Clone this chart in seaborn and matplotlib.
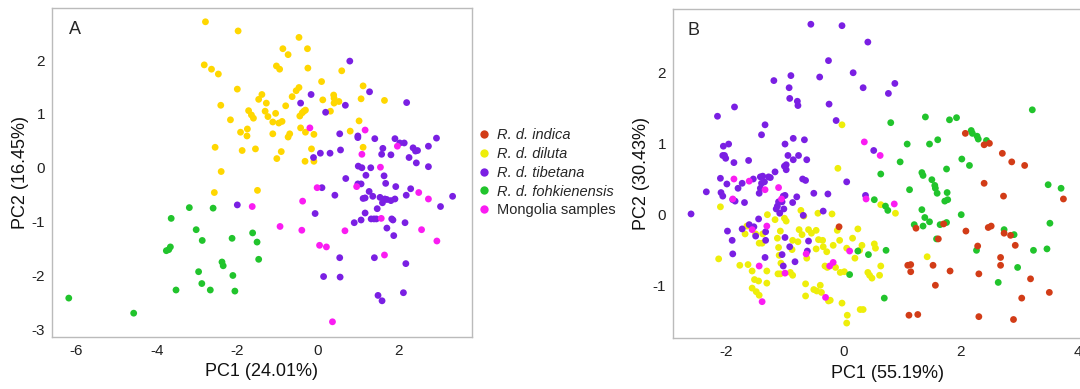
import pandas as pd
import numpy as np
import matplotlib
matplotlib.use('Agg')
import matplotlib.pyplot as plt
import seaborn as sns
from matplotlib.lines import Line2D


# -- -- -- -- --    data -- -- -- -- --

groups = ['R. d. indica', 'R. d. diluta', 'R. d. tibetana', 'R. d. fohkienensis', 'Mongolia samples']

# panel A
a_diluta_x = [-2.79, -1.98, -2.82, -2.64, -2.47, -2.0, -2.41, -1.47, -1.39, -1.28, -1.72, -1.65, -1.60,
              -1.31, -1.24, -2.17, -1.92, -1.75, -1.76, -2.55, -1.88, -1.55, -2.40, -2.57, -1.50,
              -0.47, -0.87, -0.74, -0.26, -1.03, -0.95, -0.25, 0.59, 0.09, -0.47, -0.54, -0.64, 1.12,
              0.39, 0.40, 0.12, 0.52, 0.40, 1.07, 1.65, -0.80, -0.35, -0.39, -0.45, -1.05, 0.31, -0.89,
              -0.97, -1.12, -0.43, -0.31, -0.70, -1.12, -0.74, -0.10, 0.80, 1.02, 1.12, -0.16, -0.91,
              -1.02, -0.32, -0.10, -0.31]
a_diluta_y = [2.71, 2.54, 1.91, 1.83, 1.74, 1.46, 1.16, 1.27, 1.36, 1.20, 1.06, 0.98, 0.92,
              1.05, 0.95, 0.89, 0.66, 0.72, 0.59, 0.38, 0.32, 0.35, -0.07, -0.46, -0.42,
              2.42, 2.21, 2.10, 2.21, 1.89, 1.83, 1.85, 1.80, 1.60, 1.49, 1.43, 1.32, 1.52,
              1.35, 1.29, 1.26, 1.23, 1.20, 1.28, 1.25, 1.15, 1.05, 1.02, 0.96, 1.01, 1.05, 0.86,
              0.83, 0.85, 0.74, 0.66, 0.63, 0.63, 0.57, 0.62, 0.68, 0.87, 0.38, 0.35, 0.30,
              0.17, 0.12, 0.12, 1.07]
a_tibetana_x = [-2.0, 0.79, 1.28, -0.17, -0.43, 0.68, 0.19, 2.20, 0.54, 0.99, 0.99, 1.41, 1.91, 2.03,
                2.14, 2.36, 2.42, 2.47, 2.74, 2.94, 1.61, 1.58, 1.81, 0.56, 0.30, 0.06, -0.11, 2.26,
                2.44, 1.0, 1.09, 1.31, 2.74, 1.19, 1.64, 0.69, 0.99, 1.07, 1.68, 1.93, 2.30, 0.10,
                1.27, 1.36, 1.17, 1.12, 2.19, 1.54, 1.66, 1.71, 1.81, 1.91, 1.60, 1.47, 3.34, 3.04,
                0.42, -0.07, 1.17, 1.07, 1.32, 1.39, 1.45, 1.83, 1.86, 2.16, 0.90, 1.71, 1.88, 0.54,
                1.40, 2.18, 0.14, 0.55, 1.49, 1.59, 2.12]
a_tibetana_y = [-0.69, 1.98, 1.41, 1.36, 1.20, 1.16, 1.03, 1.21, 0.63, 0.59, 0.56, 0.54, 0.54, 0.46,
                0.46, 0.37, 0.31, 0.32, 0.40, 0.55, 0.36, 0.25, 0.24, 0.33, 0.27, 0.27, 0.19, 0.19,
                0.09, 0.03, 0.0, 0.0, 0.02, -0.14, -0.15, -0.20, -0.30, -0.30, -0.29, -0.35, -0.39, -0.37,
                -0.44, -0.53, -0.56, -0.57, -0.51, -0.55, -0.58, -0.59, -0.61, -0.58, -0.65, -0.76, -0.53, -0.72,
                -0.51, -0.85, -0.84, -0.97, -0.95, -0.95, -0.95, -0.95, -0.97, -1.02, -1.02, -1.12, -1.26, -1.67,
                -1.67, -1.78, -2.02, -2.03, -2.37, -2.47, -2.32]
a_fohk_x = [-3.19, -2.60, -3.64, -3.02, -2.87, -3.76, -3.70, -3.66, -2.13, -1.62, -1.51, -1.47, -2.38,
            -2.35, -2.96, -2.11, -2.88, -3.52, -2.67, -2.06, -6.18, -4.57]
a_fohk_y = [-0.74, -0.75, -0.94, -1.15, -1.35, -1.54, -1.52, -1.47, -1.31, -1.21, -1.38, -1.70, -1.75,
            -1.82, -1.93, -2.0, -2.15, -2.27, -2.27, -2.29, -2.42, -2.70]
a_mongolia_x = [-1.63, -0.20, 1.17, 1.97, 1.09, 1.55, -0.02, 0.96, -0.38, 2.50, 2.74, -0.94, -0.40,
                0.67, 1.57, 2.57, 2.95, 0.04, 0.21, 1.65, 0.36]
a_mongolia_y = [-0.72, 0.74, 0.70, 0.40, 0.25, 0.01, -0.37, -0.35, -0.62, -0.46, -0.58, -1.09, -1.16,
                -1.17, -0.94, -1.15, -1.36, -1.44, -1.47, -1.62, -2.86]

# panel B
b_indica_x = [-0.07, 2.08, 2.40, 2.49, 2.71, 2.87, 3.09, 2.40, 2.73, 3.75, 1.24, 1.71, 2.09, 2.47, 2.52,
              2.74, 2.85, 2.93, 1.62, 2.29, 2.68, 2.68, 1.10, 1.15, 1.15, 1.53, 1.82, 2.31, 1.57, 3.19,
              3.51, 3.04, 1.12, 1.27, 2.31, 2.90]
b_indica_y = [-0.17, 1.14, 0.98, 1.00, 0.86, 0.74, 0.69, 0.44, 0.26, 0.22, -0.19, -0.13, -0.23, -0.18, -0.16,
              -0.26, -0.29, -0.43, -0.34, -0.44, -0.60, -0.71, -0.71, -0.70, -0.80, -0.71, -0.79, -0.83, -0.99, -0.90,
              -1.09, -1.17, -1.41, -1.40, -1.43, -1.47]
b_diluta_x = [-2.09, -2.12, -1.76, -1.62, -1.64, -1.67, -1.49, -1.37, -1.43, -1.38, -1.55, -1.51, -1.44,
              -1.55, -1.48, -1.43, -1.30, -1.30, -1.29, -1.16, -1.12, -1.10, -1.07, -1.09, -1.11, -1.07,
              -1.06, -1.00, -0.97, -0.86, -0.87, -0.90, -0.86, -0.77, -0.75, -0.70, -0.72, -0.67, -0.62,
              -0.59, -0.54, -0.46, -0.46, -0.42, -0.34, -0.35, -0.28, -0.31, -0.27, -0.17, -0.19, -0.09,
              -0.02, -0.10, -0.06, -0.13, -0.05, -0.64, -0.50, -0.39, -0.37, -0.64, -0.45, -0.25, -0.22,
              -0.02, 0.07, 0.06, 0.25, 0.16, 0.06, 0.20, 0.29, -0.43, 0.64, 0.89, 0.32, 0.28, 0.55, 0.53,
              0.64, 0.42, 0.45, 0.49, 0.62, 1.43, 0.34, 0.02]
b_diluta_y = [0.11, -0.62, -0.71, -0.70, -0.16, -0.27, -0.27, -0.27, -0.40, -0.40, -0.79, -0.91, -0.93,
              -1.03, -1.08, -1.13, -0.79, -0.96, 0.0, -0.07, -0.33, -0.46, -0.23, -0.57, -0.83, -0.83,
              -0.68, -0.05, -0.09, -0.36, -0.49, -0.81, -0.85, -0.38, -0.21, -0.28, 0.06, -0.02, -0.61,
              -0.21, -0.26, -0.22, -0.48, -0.35, -0.45, -0.36, -0.52, -0.72, -0.74, -0.43, 0.01, 0.65,
              1.26, -0.22, -0.36, -0.74, -0.81, -0.97, -1.05, -0.99, -1.09, -1.14, -1.07, -1.21, -1.20,
              -1.24, -1.41, -1.52, -0.20, -0.33, -0.47, -0.61, -1.33, 0.02, 0.14, 0.02, -0.43, -0.50, -0.47, -0.41,
              -0.72, -0.81, -0.85, -0.89, -0.85, -0.59, -1.33, -0.80]
b_tibetana_x = [-2.59, -2.33, -2.14, -1.85, -2.04, -1.95, -2.05, -2.02, -2.0, -1.86, -2.09, -1.98, -2.08,
                -2.05, -1.79, -1.88, -1.84, -1.72, -1.68, -1.61, -1.97, -1.72, -1.89, -1.88, -1.60, -1.52,
                -1.49, -1.44, -1.41, -1.39, -1.33, -1.53, -1.41, -1.37, -1.27, -1.24, -1.16, -1.34, -1.39,
                -1.18, -1.43, -1.32, -1.32, -1.33, -0.99, -0.94, -0.97, -1.00, -0.97, -0.85, -0.76, -0.85,
                -0.89, -0.92, -0.91, -0.78, -0.77, -0.66, -0.62, -0.69, -0.64, -0.68, -0.79, -0.86, -1.02,
                -0.99, -1.04, -1.12, -1.14, -1.10, -1.08, -1.01, -0.99, -1.04, -1.02, -0.91, -0.82, -0.61,
                -0.55, -0.40, -0.25, -0.24, -0.12, -0.02, 0.17, -0.50, -0.34, -0.26, 0.06, -0.59,
                0.42, 0.34, 0.77, 0.88, 0.52, 0.38]
b_tibetana_y = [0.01, 0.32, 1.38, 1.51, 0.96, 0.99, 0.83, 0.83, 0.79, 0.73, 0.51, 0.43, 0.31,
                0.26, 0.37, 0.21, 0.19, 0.44, 0.17, 0.76, -0.23, -0.20, -0.36, -0.55, -0.14, -0.17,
                -0.30, -0.06, 0.37, 1.12, 1.26, 0.50, 0.53, 0.54, 0.53, 0.52, 0.60, 0.46, 0.44,
                1.88, 0.30, -0.24, -0.36, -0.60, 0.99, 0.83, 0.70, 0.68, 0.63, 0.77, 0.83, 1.07,
                1.95, 1.78, 1.63, 1.59, 1.53, 1.05, 0.77, 0.50, 0.48, -0.01, 0.25, 0.17, 0.26,
                0.27, 0.18, 0.12, 0.08, 0.18, 0.02, 0.08, -0.32, -0.56, -0.72, -0.45, -0.66, -0.51,
                2.67, 1.93, 2.16, 1.55, 1.32, 2.65, 1.99, 0.30, 0.05, 0.29, 0.46, -0.37,
                2.42, 1.78, 1.70, 1.84, 0.90, 0.27]
b_fohk_x = [0.25, 0.11, 0.81, 1.40, 1.81, 1.93, 3.22, 1.09, 1.47, 1.61, 2.18, 2.20, 2.28, 2.30, 2.44,
            0.97, 0.64, 2.02, 2.15, 1.34, 1.36, 1.51, 1.76, 1.13, 1.56, 1.57, 1.60, 1.77, 1.73, 1.78,
            0.53, 0.72, 0.76, 1.34, 1.39, 1.47, 1.21, 1.36, 1.65, 1.76, 2.01, 1.59, 0.43, 0.73, 2.74,
            2.91, 2.27, 2.97, 3.24, 3.47, 3.49, 3.71, 3.52, 2.64, 0.70]
b_fohk_y = [-0.51, -0.84, 1.29, 1.37, 1.33, 1.36, 1.47, 0.99, 0.99, 1.05, 1.18, 1.14, 1.10, 1.06, 1.04,
            0.74, 0.57, 0.78, 0.69, 0.59, 0.55, 0.49, 0.64, 0.35, 0.41, 0.37, 0.30, 0.31, 0.19, 0.21,
            0.21, 0.12, 0.06, 0.07, -0.04, -0.10, -0.14, -0.16, -0.14, -0.11, 0.0, -0.34, -0.56, -0.50, -0.21,
            -0.28, -0.50, -0.74, -0.50, -0.48, 0.42, 0.37, -0.12, -0.95, -1.17]
b_mongolia_x = [-1.86, -1.60, -1.33, -1.10, -1.88, -1.05, -1.55, -1.30, -0.63, -1.43, -0.99, -0.23,
                -1.38, -0.30, -0.17, 0.11, 0.36, 0.63, 0.39, 0.87]
b_mongolia_y = [0.50, 0.47, 0.35, 0.38, 0.22, 0.22, -0.21, -0.16, -0.55, -0.72, -0.82, -0.72,
                -1.22, -1.16, -0.67, -0.51, 1.02, 0.83, 0.22, 0.15]

pal_a = {'R. d. indica': '#D23C17', 'R. d. diluta': '#FFD700', 'R. d. tibetana': '#7A1FE3',
         'R. d. fohkienensis': '#21C42C', 'Mongolia samples': '#FA1CF2'}
pal_b = dict(pal_a, **{'R. d. diluta': '#EEEE0A'})


def make_df(parts):
    frames = []
    for name, xs, ys in parts:
        frames.append(pd.DataFrame({'PC1': xs, 'PC2': ys, 'group': name}))
    return pd.concat(frames, ignore_index=True)


df_a = make_df([('R. d. diluta', a_diluta_x, a_diluta_y),
                ('R. d. tibetana', a_tibetana_x, a_tibetana_y),
                ('R. d. fohkienensis', a_fohk_x, a_fohk_y),
                ('Mongolia samples', a_mongolia_x, a_mongolia_y)])
df_b = make_df([('R. d. diluta', b_diluta_x, b_diluta_y),
                ('R. d. tibetana', b_tibetana_x, b_tibetana_y),
                ('R. d. fohkienensis', b_fohk_x, b_fohk_y),
                ('R. d. indica', b_indica_x, b_indica_y),
                ('Mongolia samples', b_mongolia_x, b_mongolia_y)])


# -- -- -- -- --    plotting -- -- -- -- --

sns.set_style('white')
plt.rcParams['font.family'] = ['Liberation Sans', 'DejaVu Sans']
plt.rcParams['axes.unicode_minus'] = False

fig = plt.figure(figsize=(10.8, 3.89), dpi=100)
ax_a = fig.add_axes([0.048, 0.134, 0.389, 0.846])
ax_b = fig.add_axes([0.623, 0.131, 0.397, 0.847])

sns.scatterplot(data=df_a, x='PC1', y='PC2', hue='group', palette=pal_a, s=24,
                linewidth=0, legend=False, ax=ax_a)
sns.scatterplot(data=df_b, x='PC1', y='PC2', hue='group', palette=pal_b, s=24,
                linewidth=0, legend=False, ax=ax_b)

ax_a.set_xlim(-6.6, 3.82)
ax_a.set_ylim(-3.14, 2.97)
ax_a.set_xticks([-6, -4, -2, 0, 2])
ax_a.set_yticks([-3, -2, -1, 0, 1, 2])
ax_a.set_xlabel('PC1 (24.01%)', fontsize=13)
ax_a.set_ylabel('PC2 (16.45%)', fontsize=13, labelpad=2)
ax_a.text(0.04, 0.96, 'A', transform=ax_a.transAxes, fontsize=13, va='top', ha='left')

ax_b.set_xlim(-2.9, 4.4)
ax_b.set_ylim(-1.73, 2.89)
ax_b.set_xticks([-2, 0, 2, 4])
ax_b.set_yticks([-1, 0, 1, 2])
ax_b.set_xlabel('PC1 (55.19%)', fontsize=13)
ax_b.set_ylabel('PC2 (30.43%)', fontsize=13, labelpad=2)
ax_b.text(0.035, 0.96, 'B', transform=ax_b.transAxes, fontsize=13, va='top', ha='left')

for ax in [ax_a, ax_b]:
    for sp in ax.spines.values():
        sp.set_color('#BBBBBB')
        sp.set_linewidth(1.0)
    ax.tick_params(axis='both', direction='out', length=3, width=0.8, color='#BBBBBB',
                   labelsize=11, labelcolor='#222222', pad=2)
    ax.xaxis.label.set_color('#111111')
    ax.yaxis.label.set_color('#111111')

handles = [Line2D([], [], marker='o', linestyle='', markersize=6, markeredgewidth=0,
                  color=pal_b[g]) for g in groups]
leg = fig.legend(handles, groups, loc='center left', bbox_to_anchor=(0.429, 0.556),
                 frameon=False, fontsize=10.5, handletextpad=-0.1, labelspacing=0.33,
                 borderaxespad=0)
for t in leg.get_texts()[:4]:
    t.set_fontstyle('italic')

fig.savefig('out.png', dpi=100)
